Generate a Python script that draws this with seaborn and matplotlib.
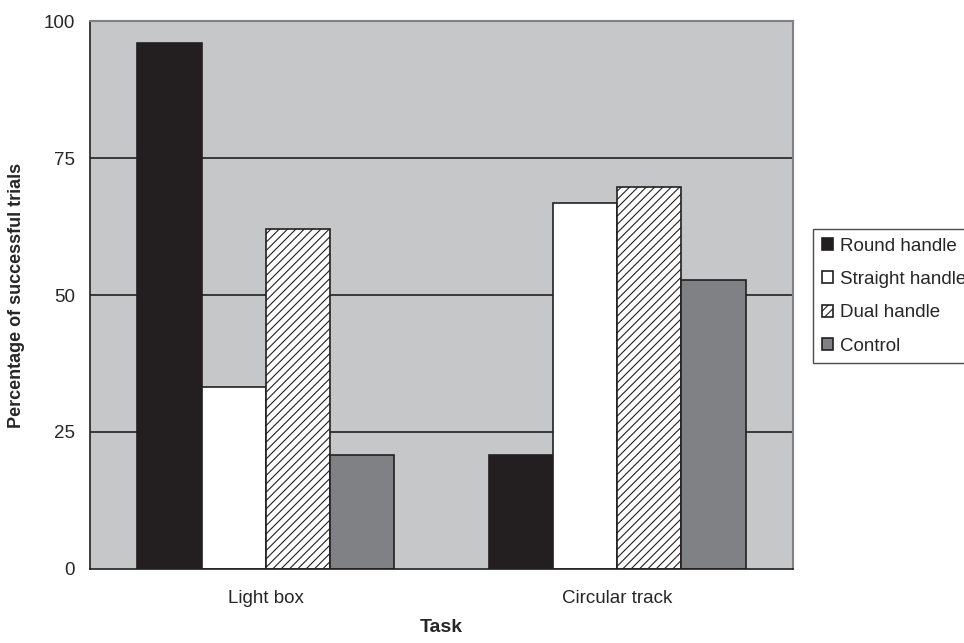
import matplotlib
matplotlib.use("Agg")
import matplotlib.pyplot as plt
import seaborn as sns
import pandas as pd

# Data
tasks = ["Light box", "Circular track"]
handles = ["Round handle", "Straight handle", "Dual handle", "Control"]
round_handle = [96.0, 20.8]
straight_handle = [33.3, 66.7]
dual_handle = [62.0, 69.8]
control = [20.8, 52.8]

fills = ["#231f20", "#ffffff", "#ffffff", "#808184"]
hatches = ["", "", "////", ""]

df = pd.DataFrame({
    "Task": tasks * 4,
    "Handle": [h for h in handles for _ in tasks],
    "Percent": round_handle + straight_handle + dual_handle + control,
})

sns.set_style("white")
plt.rcParams["font.family"] = ["Liberation Sans", "DejaVu Sans"]
plt.rcParams["hatch.linewidth"] = 0.8
plt.rcParams["hatch.color"] = "#231f20"

fig = plt.figure(figsize=(9.64, 6.43), dpi=100)
ax = fig.add_axes([0.0934, 0.1151, 0.7292, 0.8522])
ax.set_facecolor("#c6c7c9")

sns.barplot(data=df, x="Task", y="Percent", hue="Handle", order=tasks,
            hue_order=handles, palette=fills, width=0.73, saturation=1,
            edgecolor="#231f20", linewidth=1.2, ax=ax, legend=False)

for cont, h in zip(ax.containers, hatches):
    for bar in cont:
        bar.set_hatch(h)

ax.set_ylim(0, 100)
ax.set_xlim(-0.5, 1.5)
ax.set_yticks([0, 25, 50, 75, 100])
ax.set_yticklabels(["0", "25", "50", "75", "100"])
for v in [25, 50, 75]:
    ax.axhline(v, color="#231f20", lw=1.2, zorder=0.5)

ax.set_xticks([0, 1])
ax.set_xticklabels(tasks)
ax.set_xticks([-0.5, 0.5, 1.5], minor=True)
ax.tick_params(axis="x", which="major", length=0, pad=15, labelsize=13.5)
ax.tick_params(axis="x", which="minor", length=5, width=1, color="#231f20", direction="out")
ax.tick_params(axis="y", length=5, width=1, color="#231f20", direction="out", labelsize=13.5, pad=6)

for s in ["left", "bottom"]:
    ax.spines[s].set_color("#231f20")
    ax.spines[s].set_linewidth(1.2)
for s in ["top", "right"]:
    ax.spines[s].set_color("#808184")
    ax.spines[s].set_linewidth(1.5)

ax.set_xlabel("Task", fontsize=14, fontweight="bold", labelpad=9)
ax.set_ylabel("Percentage of successful trials", fontsize=13, fontweight="bold", labelpad=13)

leg_handles = [cont.patches[0] for cont in ax.containers]
leg = ax.legend(leg_handles, handles, loc="upper left", bbox_to_anchor=(1.029, 0.62),
                frameon=True, fancybox=False, edgecolor="#231f20", fontsize=13.5,
                handlelength=0.6, handleheight=0.6, handletextpad=0.35,
                labelspacing=0.87, borderpad=0.45, borderaxespad=0)
leg.get_frame().set_linewidth(1.0)

fig.savefig("out.png", dpi=100)
